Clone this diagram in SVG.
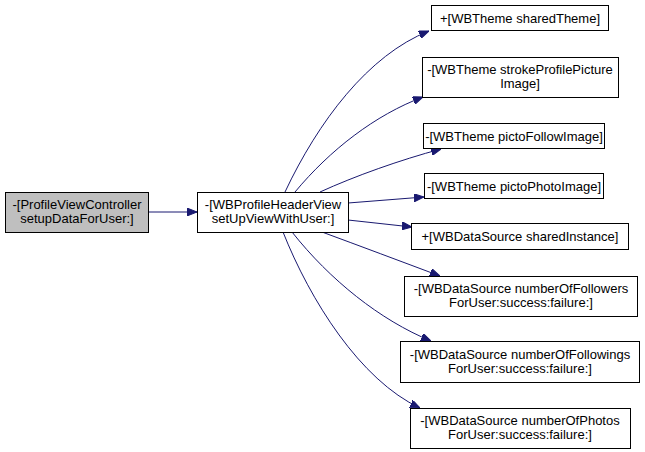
<svg xmlns="http://www.w3.org/2000/svg" width="645" height="452" viewBox="0 0 645 452">
<defs>
<style>
.box{fill:#ffffff;stroke:#000000;stroke-width:1}
.hl{fill:#bfbfbf}
text{font-family:"Liberation Sans",Arial,sans-serif;font-size:13px;fill:#000000;text-anchor:middle}
.e{fill:none;stroke:#191970;stroke-width:1}
</style>
<marker id="ah" viewBox="0 0 10 8" refX="10" refY="4" markerWidth="10" markerHeight="8" markerUnits="userSpaceOnUse" orient="auto">
<path d="M0,0 L10,4 L0,8 Z" fill="#191970" stroke="#191970"/>
</marker>
</defs>
<rect width="645" height="452" fill="#ffffff"/>
<g id="connectors">
<path class="e" marker-end="url(#ah)" d="M148,212 L197,212"/>
<path class="e" marker-end="url(#ah)" d="M285,192 C318,122 368,55 429,31"/>
<path class="e" marker-end="url(#ah)" d="M295,192 C330,150 375,115 423,97"/>
<path class="e" marker-end="url(#ah)" d="M320,192 C355,176 400,160 441,149"/>
<path class="e" marker-end="url(#ah)" d="M348,203 L424,197"/>
<path class="e" marker-end="url(#ah)" d="M348,220 L412,227"/>
<path class="e" marker-end="url(#ah)" d="M322,232 C360,246 400,261 440,276"/>
<path class="e" marker-end="url(#ah)" d="M292,232 C330,280 380,320 431,341"/>
<path class="e" marker-end="url(#ah)" d="M283,232 C310,300 360,380 420,408"/>
</g>
<g id="n1">
<rect class="box hl" x="5.5" y="192.5" width="143" height="40"/>
<text x="77" y="209">-[ProfileViewController</text>
<text x="77" y="223">setupDataForUser:]</text>
</g>
<g id="n2">
<rect class="box" x="197.5" y="192.5" width="151" height="40"/>
<text x="273" y="209">-[WBProfileHeaderView</text>
<text x="273" y="223">setUpViewWithUser:]</text>
</g>
<g id="n3">
<rect class="box" x="431.5" y="5.5" width="177" height="25"/>
<text x="520" y="23">+[WBTheme sharedTheme]</text>
</g>
<g id="n4">
<rect class="box" x="422.5" y="57.5" width="196" height="40"/>
<text x="520" y="74">-[WBTheme strokeProfilePicture</text>
<text x="520" y="88">Image]</text>
</g>
<g id="n5">
<rect class="box" x="423.5" y="123.5" width="181" height="25"/>
<text x="514" y="141">-[WBTheme pictoFollowImage]</text>
</g>
<g id="n6">
<rect class="box" x="424.5" y="173.5" width="179" height="25"/>
<text x="514" y="191">-[WBTheme pictoPhotoImage]</text>
</g>
<g id="n7">
<rect class="box" x="411.5" y="223.5" width="217" height="26"/>
<text x="520" y="241">+[WBDataSource sharedInstance]</text>
</g>
<g id="n8">
<rect class="box" x="404.5" y="276.5" width="233" height="40"/>
<text x="521" y="293">-[WBDataSource numberOfFollowers</text>
<text x="521" y="307">ForUser:success:failure:]</text>
</g>
<g id="n9">
<rect class="box" x="400.5" y="341.5" width="239" height="41"/>
<text x="520" y="359">-[WBDataSource numberOfFollowings</text>
<text x="520" y="373">ForUser:success:failure:]</text>
</g>
<g id="n10">
<rect class="box" x="410.5" y="408.5" width="220" height="40"/>
<text x="520" y="425">-[WBDataSource numberOfPhotos</text>
<text x="520" y="439">ForUser:success:failure:]</text>
</g>
</svg>
